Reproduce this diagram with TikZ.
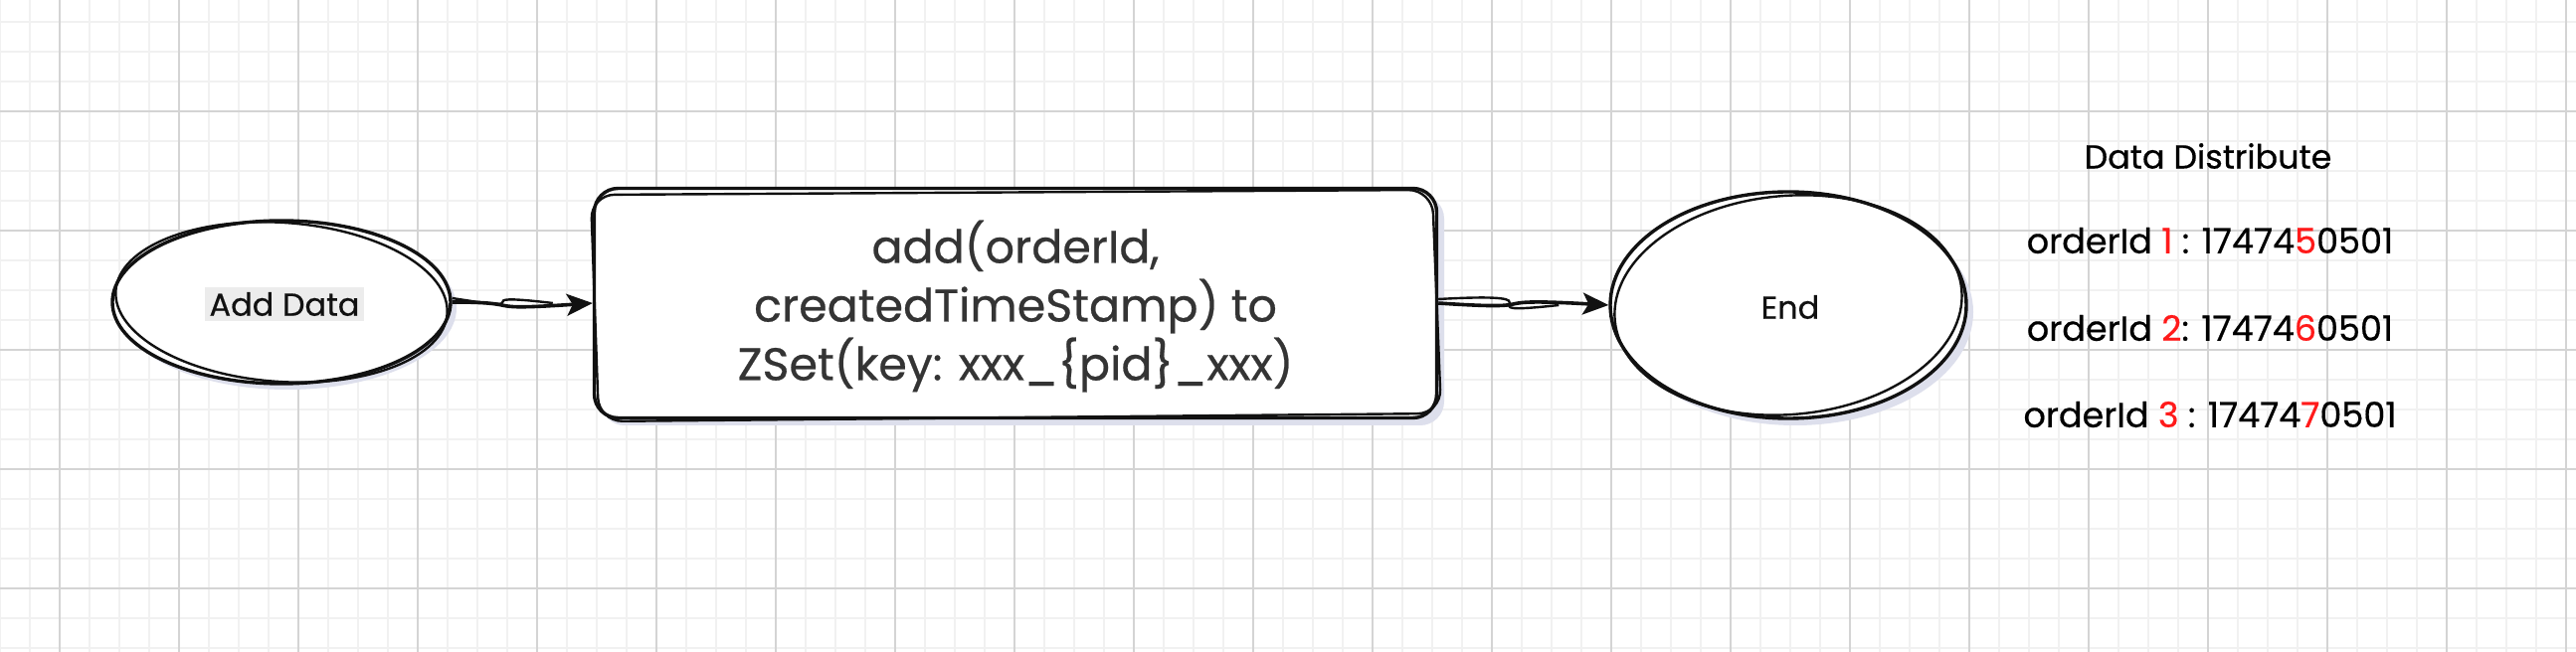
\documentclass[tikz,border=0pt]{standalone}
\usepackage{fontspec}
\setmainfont{Poppins}
\newfontfamily\handfont{Poppins}[FakeBold=0.5]
\usetikzlibrary{arrows.meta,shapes.geometric}
\definecolor{gridminor}{HTML}{F1F1F1}
\definecolor{gridmajor}{HTML}{D4D4D4}
\definecolor{shadowc}{HTML}{DDDFEC}
\definecolor{ink}{HTML}{111111}
\definecolor{boxtext}{HTML}{343434}
\definecolor{hl}{HTML}{ECECEC}
\definecolor{redd}{HTML}{FF1A1A}
\tikzset{
  skthin/.style={draw=ink, line width=1.2pt},
  oval/.style={ellipse, draw=ink, fill=white, line width=1.7pt, inner sep=0pt},
  procbox/.style={rectangle, rounded corners=12pt, draw=ink, fill=white, line width=1.7pt, inner sep=0pt},
  lbl/.style={font=\handfont\fontsize{16}{19}\selectfont, text=ink},
  boxlbl/.style={font=\handfont\fontsize{23}{29.5}\selectfont, text=boxtext, align=center},
  ddlbl/.style={font=\handfont\fontsize{17.5}{21}\selectfont, text=black},
  ddhead/.style={font=\handfont\fontsize{16.7}{20}\selectfont, text=black},
  conn/.style={draw=ink, line width=1.8pt, -{Stealth[length=13pt,width=11pt,inset=3pt]}},
}
\begin{document}
\begin{tikzpicture}[x=0.5pt,y=-0.5pt]
\useasboundingbox (0,0) rectangle (2590,656);
\fill[white] (0,0) rectangle (2590,656);
% grid
\foreach \x in {0,30,...,2580} \draw[gridminor, line width=0.9pt] (\x,0) -- (\x,656);
\foreach \y in {22,52,...,652} \draw[gridminor, line width=0.9pt] (0,\y) -- (2590,\y);
\foreach \x in {60,180,...,2580} \draw[gridmajor, line width=0.6pt] (\x,0) -- (\x,656);
\foreach \y in {112,232,...,592} \draw[gridmajor, line width=0.6pt] (0,\y) -- (2590,\y);

% shadows
\fill[shadowc] (289,310) ellipse [x radius=170, y radius=82];
\fill[shadowc, rounded corners=12pt] (604,196) rectangle (1452,428);
\fill[shadowc] (1805,314) ellipse [x radius=179, y radius=114];

% Add Data
\node[oval, minimum width=170pt, minimum height=82pt] (ad) at (283,304) {};
\draw[skthin, rotate around={-4:(ad.center)}] (ad.center) ellipse [x radius=167, y radius=80];
\node[lbl, fill=hl, inner sep=2.5pt] (adt) at (286,306) {Add Data};

% process box
\node[procbox, minimum width=423.5pt, minimum height=115.5pt] (pb) at (1021,305) {};
\draw[skthin, rounded corners=12pt] (594,196) -- (1440,191) -- (1449,416) -- (602,424) -- cycle;
\node[boxlbl] (pbt) at (1021,308) {add(orderId,\\createdTimeStamp) to\\ZSet(key: xxx\_\{pid\}\_xxx)};

% End
\node[oval, minimum width=179pt, minimum height=114pt] (en) at (1798,307) {};
\draw[skthin, rotate around={5:(en.center)}] (en.center) ellipse [x radius=175, y radius=110];
\node[lbl] (ent) at (1800,309) {End};

% connectors
\draw[conn] (ad.east) .. controls ([xshift=40]ad.east) and ([xshift=-60,yshift=-4]pb.west) .. (pb.west);
\draw[skthin] ([yshift=2]ad.east) .. controls ([xshift=50,yshift=-6]ad.east) and ([xshift=-70,yshift=6]pb.west) .. ([xshift=-20]pb.west);
\draw[conn] (pb.east) .. controls ([xshift=60,yshift=-4]pb.east) and ([xshift=-70,yshift=4]en.west) .. (en.west);
\draw[skthin] ([yshift=2]pb.east) .. controls ([xshift=70,yshift=6]pb.east) and ([xshift=-80,yshift=-6]en.west) .. ([xshift=-25]en.west);

% Data distribute
\node[ddhead] (ddh) at (2220,157) {Data Distribute};
\node[ddlbl] (o1) at (2222,242) {orderId \textcolor{redd}{1} : 17474\textcolor{redd}{5}0501};
\node[ddlbl] (o2) at (2222,330) {orderId \textcolor{redd}{2}: 17474\textcolor{redd}{6}0501};
\node[ddlbl] (o3) at (2222,417) {orderId \textcolor{redd}{3} : 17474\textcolor{redd}{7}0501};
\end{tikzpicture}
\end{document}
